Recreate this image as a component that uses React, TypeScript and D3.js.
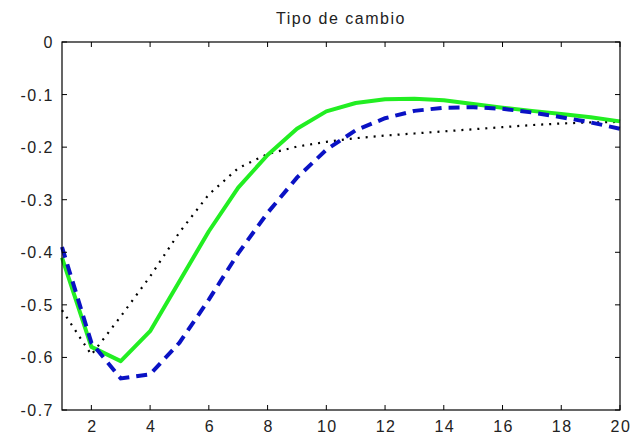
import React, { useEffect, useRef } from "react";
import * as d3 from "d3";

const periods = d3.range(1, 21);
const greenSolid = [
  -0.41, -0.58, -0.607, -0.55, -0.455, -0.36, -0.277, -0.215, -0.165, -0.132,
  -0.116, -0.109, -0.108, -0.111, -0.118, -0.125, -0.131, -0.137, -0.143, -0.151,
];
const blueDashed = [
  -0.39, -0.572, -0.64, -0.632, -0.572, -0.49, -0.402, -0.325, -0.258, -0.205,
  -0.168, -0.145, -0.131, -0.125, -0.124, -0.127, -0.134, -0.143, -0.153, -0.165,
];
const blackDotted = [
  -0.51, -0.595, -0.522, -0.446, -0.362, -0.29, -0.24, -0.213, -0.199, -0.19,
  -0.183, -0.178, -0.174, -0.17, -0.166, -0.162, -0.158, -0.155, -0.153, -0.152,
];
const xTicks = [2, 4, 6, 8, 10, 12, 14, 16, 18, 20];
const yTicks = [0, -0.1, -0.2, -0.3, -0.4, -0.5, -0.6, -0.7];
const title = "Tipo de cambio";

const W = 632;
const H = 438;
const margin = { left: 62, right: 12, top: 42, bottom: 28 };
const font = "'Liberation Sans', Arial, sans-serif";

const App = () => {
  const svgRef = useRef<SVGSVGElement>(null);

  useEffect(() => {
    document.body.style.margin = "0";
    const svg = d3.select(svgRef.current);
    svg.selectAll("*").remove();

    const x = d3.scaleLinear().domain([1, 20]).range([margin.left, W - margin.right]);
    const y = d3.scaleLinear().domain([-0.7, 0]).range([H - margin.bottom, margin.top]);

    svg.append("rect").attr("width", W).attr("height", H).attr("fill", "#fff");

    const line = d3
      .line<number>()
      .x((_, i) => x(periods[i]))
      .y((d) => y(d));

    svg
      .append("path")
      .datum(blackDotted)
      .attr("fill", "none")
      .attr("stroke", "#000")
      .attr("stroke-width", 2.2)
      .attr("stroke-dasharray", "2,6")
      .attr("d", line);

    svg
      .append("path")
      .datum(greenSolid)
      .attr("fill", "none")
      .attr("stroke", "#22ee22")
      .attr("stroke-width", 4)
      .attr("stroke-linejoin", "round")
      .attr("d", line);

    svg
      .append("path")
      .datum(blueDashed)
      .attr("fill", "none")
      .attr("stroke", "#0a12c4")
      .attr("stroke-width", 4)
      .attr("stroke-dasharray", "11,7")
      .attr("d", line);

    // axes box with inward ticks
    const x0 = x(1);
    const x1 = x(20);
    const y0 = y(-0.7);
    const y1 = y(0);
    svg
      .append("rect")
      .attr("x", x0)
      .attr("y", y1)
      .attr("width", x1 - x0)
      .attr("height", y0 - y1)
      .attr("fill", "none")
      .attr("stroke", "#000")
      .attr("stroke-width", 1.2);

    const tickLen = 5;
    xTicks.forEach((t) => {
      svg.append("line").attr("x1", x(t)).attr("x2", x(t)).attr("y1", y0).attr("y2", y0 - tickLen).attr("stroke", "#000");
      svg.append("line").attr("x1", x(t)).attr("x2", x(t)).attr("y1", y1).attr("y2", y1 + tickLen).attr("stroke", "#000");
      svg
        .append("text")
        .attr("x", x(t) + 1)
        .attr("y", y0 + 22)
        .attr("text-anchor", "middle")
        .attr("font-family", font)
        .attr("font-size", 16)
        .attr("letter-spacing", 1.5)
        .attr("fill", "#222")
        .text(t);
    });
    yTicks.forEach((t) => {
      svg.append("line").attr("x1", x0).attr("x2", x0 + tickLen).attr("y1", y(t)).attr("y2", y(t)).attr("stroke", "#000");
      svg.append("line").attr("x1", x1).attr("x2", x1 - tickLen).attr("y1", y(t)).attr("y2", y(t)).attr("stroke", "#000");
      svg
        .append("text")
        .attr("x", x0 - 8)
        .attr("y", y(t) + 6)
        .attr("text-anchor", "end")
        .attr("font-family", font)
        .attr("font-size", 16)
        .attr("letter-spacing", 1.5)
        .attr("fill", "#222")
        .text(t === 0 ? "0" : d3.format(".1f")(t).replace("−", "-"));
    });

    svg
      .append("text")
      .attr("x", (x0 + x1) / 2)
      .attr("y", 24)
      .attr("text-anchor", "middle")
      .attr("font-family", font)
      .attr("font-size", 16)
      .attr("letter-spacing", 1.5)
      .attr("fill", "#222")
      .text(title);
  }, []);

  return <svg ref={svgRef} width={W} height={H} style={{ display: "block" }} />;
};

export default App;
